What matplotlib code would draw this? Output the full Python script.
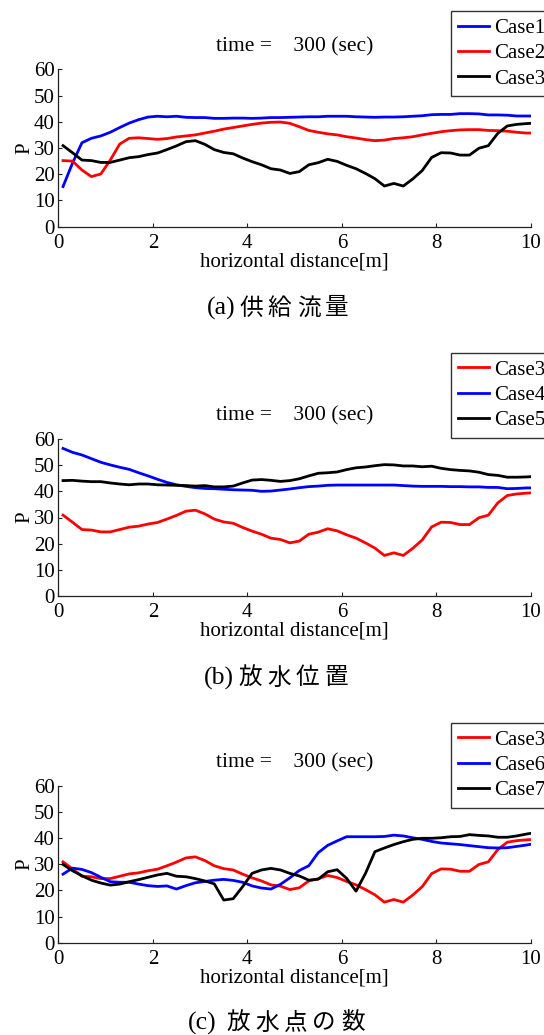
import numpy as np
import matplotlib
matplotlib.use("Agg")
import matplotlib.pyplot as plt

# Sampling positions along the channel [m]
x = np.append(np.arange(0.1, 10.0, 0.2), 10.0)

# (a) supply discharge
case1 = [15.3, 24.2, 32.0, 33.7, 34.6, 36.0, 37.8, 39.5, 40.8, 41.8,
         42.1, 41.9, 42.1, 41.7, 41.6, 41.6, 41.3, 41.3, 41.4, 41.4,
         41.3, 41.4, 41.6, 41.6, 41.7, 41.8, 41.9, 41.9, 42.1, 42.1,
         42.1, 41.9, 41.8, 41.7, 41.8, 41.8, 41.9, 42.1, 42.3, 42.7,
         42.8, 42.8, 43.1, 43.1, 43.0, 42.6, 42.6, 42.5, 42.2, 42.2, 42.2]
case2 = [25.2, 25.0, 21.6, 19.1, 20.1, 25.4, 31.5, 33.7, 33.9, 33.6,
         33.3, 33.6, 34.2, 34.6, 35.0, 35.7, 36.4, 37.2, 37.8, 38.4,
         39.0, 39.5, 39.8, 39.9, 39.4, 38.1, 36.7, 36.0, 35.4, 35.0,
         34.3, 33.8, 33.2, 32.8, 33.0, 33.6, 33.9, 34.3, 35.0, 35.6,
         36.2, 36.6, 36.9, 37.0, 37.0, 36.7, 36.6, 36.4, 36.0, 35.7, 35.7]
case3 = [30.9, 28.2, 25.4, 25.2, 24.5, 24.5, 25.4, 26.3, 26.7, 27.5,
         28.1, 29.4, 30.8, 32.4, 32.8, 31.4, 29.4, 28.3, 27.8, 26.2,
         24.8, 23.6, 22.1, 21.6, 20.3, 21.0, 23.6, 24.4, 25.7, 24.9,
         23.4, 22.1, 20.3, 18.3, 15.5, 16.5, 15.5, 18.2, 21.4, 26.4,
         28.2, 28.1, 27.3, 27.3, 29.9, 30.9, 35.6, 38.4, 39.0, 39.3, 39.4]

# (b) discharge position
case4 = [56.4, 54.9, 53.9, 52.5, 51.1, 50.1, 49.2, 48.4, 47.1, 45.9,
         44.6, 43.4, 42.5, 41.9, 41.4, 41.1, 41.0, 40.8, 40.6, 40.5,
         40.4, 40.0, 40.1, 40.5, 40.9, 41.4, 41.8, 42.0, 42.3, 42.4,
         42.4, 42.4, 42.4, 42.4, 42.4, 42.4, 42.2, 42.0, 41.9, 41.9,
         41.9, 41.8, 41.8, 41.7, 41.7, 41.5, 41.5, 41.0, 41.1, 41.3, 41.3]
case5 = [44.1, 44.2, 43.9, 43.7, 43.7, 43.2, 42.8, 42.5, 42.8, 42.8,
         42.5, 42.4, 42.3, 42.2, 42.0, 42.2, 41.7, 41.7, 42.0, 43.2,
         44.3, 44.5, 44.2, 43.8, 44.1, 44.8, 45.9, 46.9, 47.1, 47.4,
         48.3, 49.0, 49.3, 49.8, 50.2, 50.1, 49.7, 49.7, 49.4, 49.6,
         48.8, 48.3, 48.0, 47.8, 47.3, 46.4, 46.1, 45.4, 45.4, 45.5, 45.6]

# (c) number of discharge points
case6 = [26.2, 28.5, 28.0, 26.8, 25.0, 23.3, 23.1, 23.1, 22.4, 21.8,
         21.5, 21.7, 20.5, 21.8, 22.9, 23.4, 23.9, 24.2, 23.8, 23.1,
         21.7, 20.9, 20.5, 22.3, 24.8, 27.6, 29.4, 34.4, 37.2, 38.9,
         40.5, 40.5, 40.5, 40.5, 40.6, 41.1, 40.8, 40.1, 39.5, 38.7,
         38.1, 37.8, 37.5, 37.1, 36.7, 36.3, 36.2, 36.3, 36.8, 37.3, 37.6]
case7 = [29.9, 27.5, 25.6, 23.9, 22.8, 22.0, 22.4, 23.3, 24.1, 25.0,
         25.9, 26.5, 25.4, 25.2, 24.5, 23.6, 22.5, 16.3, 16.8, 21.4,
         26.5, 27.8, 28.4, 27.8, 26.5, 25.5, 23.9, 24.3, 27.1, 27.9,
         24.6, 19.7, 26.5, 34.8, 36.2, 37.5, 38.6, 39.5, 39.9, 39.9,
         40.1, 40.5, 40.6, 41.3, 41.0, 40.8, 40.3, 40.3, 40.8, 41.5, 41.8]

title_text = "time =    300 (sec)"
x_label = "horizontal distance[m]"
y_label = "P"
y_ticks = [0, 10, 20, 30, 40, 50, 60]
x_ticks = [0, 2, 4, 6, 8, 10]

panels = [
    {"series": [("Case1", case1, "blue"), ("Case2", case2, "red"), ("Case3", case3, "black")],
     "tag": "(a)", "caption": "供給流量"},
    {"series": [("Case3", case3, "red"), ("Case4", case4, "blue"), ("Case5", case5, "black")],
     "tag": "(b)", "caption": "放水位置"},
    {"series": [("Case3", case3, "red"), ("Case6", case6, "blue"), ("Case7", case7, "black")],
     "tag": "(c)", "caption": "放水点の数"},
]

W, H = 544, 1035
fig = plt.figure(figsize=(W / 100, H / 100), dpi=100)
serif = "Liberation Serif"
cjk = "Noto Sans CJK JP"

# pixel layout per panel: axes top, axes bottom, legend top, title y,
# caption y, caption tag x, first caption character x
layout = [
    (69.3, 226.7, 11, 46.7, 308, 221, 251),
    (439.0, 596.0, 352.7, 416, 678, 219, 250),
    (785.7, 942.7, 722.7, 762.7, 1023, 202, 238),
]
ax_left, ax_right = 58.3, 530.9

for p, (top, bot, leg_top, title_y, cap_y, tag_x, ch_x) in zip(panels, layout):
    ax = fig.add_axes([ax_left / W, 1 - bot / H, (ax_right - ax_left) / W, (bot - top) / H])
    for name, vals, col in p["series"]:
        ax.plot(x, vals, color=col, lw=2.0, label=name)
    ax.set_xlim(0, 10)
    ax.set_ylim(0, 60)
    ax.set_xticks(x_ticks)
    ax.set_yticks(y_ticks)
    for s in ("top", "right"):
        ax.spines[s].set_visible(False)
    for s in ("left", "bottom"):
        ax.spines[s].set_color("#222222")
        ax.spines[s].set_linewidth(0.9)
    ax.tick_params(direction="in", length=3, width=0.8, colors="#222222",
                   labelcolor="black", labelsize=15)
    ax.tick_params(axis="x", pad=5)
    ax.tick_params(axis="y", pad=2.5)
    for lab in ax.get_xticklabels() + ax.get_yticklabels():
        lab.set_fontfamily(serif)
    ax.set_xlabel(x_label, fontfamily=serif, fontsize=15, labelpad=0)
    ax.set_ylabel(y_label, fontfamily=serif, fontsize=15, labelpad=0)
    fig.text((ax_left + ax_right) / 2 / W, 1 - title_y / H, title_text,
             ha="center", va="center", fontfamily=serif, fontsize=15.5)
    leg = ax.legend(loc="upper left", bbox_to_anchor=(451 / W, 1 - leg_top / H),
                    bbox_transform=fig.transFigure, frameon=True, fancybox=False,
                    prop={"family": serif, "size": 15}, handlelength=1.45,
                    handletextpad=0.25, borderpad=0.35, labelspacing=0.28,
                    borderaxespad=0)
    leg.get_frame().set_edgecolor("black")
    leg.get_frame().set_linewidth(1.0)

    # caption: serif tag followed by spaced CJK characters
    fig.text(tag_x / W, 1 - cap_y / H, p["tag"], ha="center", va="center",
             fontfamily=serif, fontsize=18.5)
    for i, ch in enumerate(p["caption"]):
        fig.text((ch_x + 28.7 * i) / W, 1 - cap_y / H, ch, ha="center", va="center",
                 fontfamily=cjk, fontsize=17)

fig.savefig("out.png", dpi=100)
